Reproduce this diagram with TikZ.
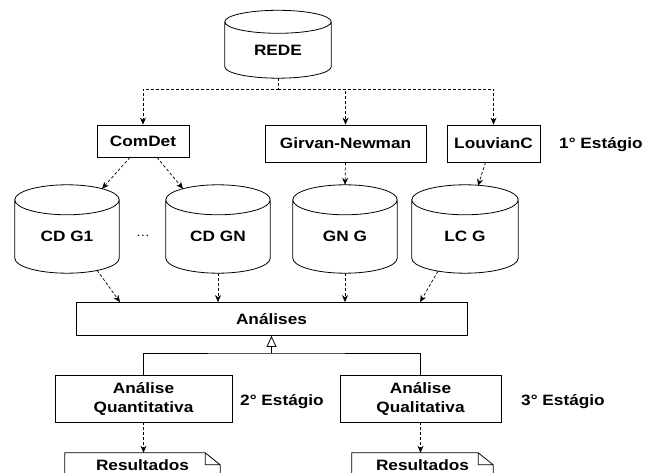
\documentclass[tikz,border=0pt]{standalone}
\usepackage{fontspec}
\setmainfont{Liberation Sans}[FakeStretch=1.15]
\usetikzlibrary{positioning,arrows.meta,calc}

\tikzset{
  box/.style={draw, line width=0.8pt, minimum height=37pt, inner sep=2pt, align=center},
  db/.style={minimum width=104pt, minimum height=73pt, inner sep=0pt},
  doc/.style={minimum height=24pt, inner sep=0pt},
  flow/.style={-{Stealth[length=7pt,width=6pt]}, dash pattern=on 3pt off 2pt, line width=0.7pt},
  stage/.style={inner sep=0pt}
}

\begin{document}
\begin{tikzpicture}[x=1pt,y=-1pt,node distance=2cm,on grid,
    every node/.style={font=\fontsize{15}{19}\selectfont\bfseries}]
  \clip (0,0) rectangle (646,473);

  % entrada
  \node[db, minimum width=106pt, minimum height=56pt] (rede) at (278,50) {REDE};

  % 1o estagio
  \node[box, minimum width=92pt, minimum height=32pt] (comdet) at (143,141) {ComDet};
  \node[box, minimum width=161pt] (girvan) at (345.5,143.5) {Girvan-Newman};
  \node[box, minimum width=93pt] (louv) at (493.5,143.5) {LouvianC};
  \node[stage] (st1) at (601,145) {1° Estágio};

  \node[db] (cdg1) at (67,236.5) {CD G1};
  \node[db] (cdgn) [right=151pt of cdg1] {CD GN};
  \node[db] (gng) [right=127pt of cdgn] {GN G};
  \node[db, minimum width=106pt] (lcg) [right=120pt of gng] {LC G};
  \node[font=\fontsize{12}{14}\selectfont, anchor=base] (dots) at (143,237) {…};

  \foreach \c/\r in {rede/11.5, cdg1/15, cdgn/15, gng/15, lcg/15}
    \draw[line width=0.8pt] let \p1=(\c.north west), \p2=(\c.north east), \n1={(\x2-\x1)/2} in
      (\c.north west) -- ([yshift=\r pt]\c.south west)
      arc[start angle=180, end angle=360, x radius=\n1, y radius=\r pt]
      -- (\c.north east)
      arc[start angle=0, end angle=360, x radius=\n1, y radius=\r pt];

  % analises
  \node[box, minimum width=391pt, minimum height=33pt] (anal) at (271.5,319) {Análises};

  % 2o e 3o estagio
  \node[box, minimum width=177pt, minimum height=47pt] (quant) at (143.5,398.5) {Análise\\Quantitativa};
  \node[box, minimum width=161pt, minimum height=47pt] (qual) [right=277pt of quant] {Análise\\Qualitativa};
  \node[stage] (st2) at (282,402) {2° Estágio};
  \node[stage] (st3) at (563,402) {3° Estágio};

  \node[doc, minimum width=155pt] (res1) at (142.5,465) {Resultados};
  \node[doc, minimum width=141pt] (res2) at (422.5,465) {Resultados};
  \foreach \c in {res1, res2}
    \draw[line width=0.8pt] (\c.south west) -- (\c.north west) -- ([xshift=-15]\c.north east)
      -- ([yshift=-12]\c.north east) -- (\c.south east)
      ([xshift=-15]\c.north east) |- ([yshift=-12]\c.north east);

  % ligacoes
  \coordinate (split) at (278,89);
  \draw[flow] (rede.south) -- (split) -| (comdet.north);
  \draw[flow] (split) -| (girvan.north);
  \draw[flow] (split) -| (louv.north);

  \draw[flow] ([xshift=-13]comdet.south) -- ([xshift=35,yshift=11]cdg1.north);
  \draw[flow] ([xshift=14]comdet.south) -- ([xshift=-35,yshift=11]cdgn.north);
  \draw[flow] (girvan.south) -- ([yshift=15]gng.north);
  \draw[flow] ([xshift=-8]louv.south) -- ([xshift=13,yshift=14]lcg.north);

  \draw[flow] ([xshift=30,yshift=3]cdg1.south) -- ([xshift=-151.5]anal.north);
  \draw[flow] (cdgn.south) -- (cdgn.south |- anal.north);
  \draw[flow] (gng.south) -- (gng.south |- anal.north);
  \draw[flow] ([xshift=-27,yshift=2]lcg.south) -- ([xshift=148.5]anal.north);

  \coordinate (join) at (271.5,353);
  \draw[line width=0.8pt, -{Triangle[open,length=11pt,width=10pt]}] (join) -- (anal.south);
  \draw[line width=0.8pt] (quant.north) |- (join) -| (qual.north);

  \draw[flow] (quant.south) -- (quant.south |- res1.north);
  \draw[flow] (qual.south) -- (qual.south |- res2.north);
\end{tikzpicture}
\end{document}
